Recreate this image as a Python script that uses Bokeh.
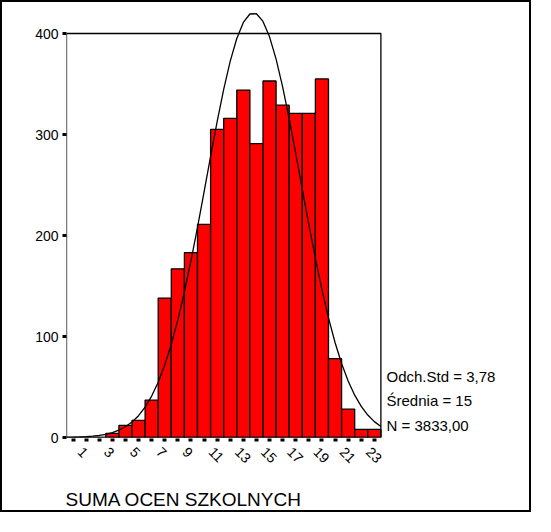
import math
from bokeh.plotting import figure
from bokeh.models import FixedTicker, Label, Range1d, Title
from bokeh.embed import file_html
from bokeh.resources import INLINE

# ---- data ----
bins = list(range(24))
counts = [0, 0, 0, 4, 12, 17, 37, 138, 167, 183, 211, 305,
          316, 344, 291, 353, 329, 321, 321, 355, 78, 28, 8, 8]
x_labelled = [1, 3, 5, 7, 9, 11, 13, 15, 17, 19, 21, 23]
y_ticks = [0, 100, 200, 300, 400]

curve_x = [-0.5, 0, 0.5, 1, 1.5, 2, 2.5, 3, 3.5, 4, 4.5, 5, 5.5, 6, 6.5, 7, 7.5, 8,
           8.5, 9, 9.5, 10, 10.5, 11, 11.5, 12, 12.5, 13, 13.5, 14, 14.5, 15, 15.5,
           16, 16.5, 17, 17.5, 18, 18.5, 19, 19.5, 20, 20.5, 21, 21.5, 22, 22.5, 23, 23.5]
curve_y = [0.2, 0.3, 0.5, 0.8, 1.3, 2.0, 3.1, 4.8, 7.2, 10.6, 15.3, 21.6, 30.0, 41.0,
           54.7, 71.8, 92.3, 116.4, 144.1, 174.8, 208.1, 243.0, 278.4, 312.8, 344.7,
           372.6, 395.1, 411.0, 419.3, 419.6, 412.0, 396.7, 374.6, 347.1, 315.4, 281.2,
           245.8, 210.8, 177.4, 146.4, 118.5, 94.1, 73.3, 56.0, 41.9, 30.8, 22.2, 15.7, 10.9]

stats_lines = ["Odch.Std = 3,78", "Średnia = 15", "N = 3833,00"]
x_title = "SUMA OCEN SZKOLNYCH"

FONT = "Liberation Sans"
X0, X1 = -0.5, 35.15
LABEL_SHIFT = 0.45  # rotated tick labels sit slightly left of their tick marks

p = figure(width=531, height=512, output_backend="svg", toolbar_location=None, title=None,
           x_range=Range1d(X0, X1), y_range=Range1d(0, 430.7),
           min_border_left=64, min_border_right=0, min_border_top=0, min_border_bottom=77)
p.extra_x_ranges = {"lab": Range1d(X0 + LABEL_SHIFT, X1 + LABEL_SHIFT)}
p.styles = {"border": "2px solid black"}
p.outline_line_color = None
p.grid.visible = False
p.background_fill_color = "white"
p.border_fill_color = "white"

p.vbar(x=bins, top=counts, width=1, bottom=0,
       fill_color="#FF0000", line_color="black", line_width=1.3)
p.line(curve_x, curve_y, line_color="black", line_width=1.3)
p.quad(left=[bins[0] - 0.5], right=[bins[-1] + 0.5], bottom=[y_ticks[0]], top=[y_ticks[-1]],
       fill_color=None, line_color="black", line_width=1.3)

xa = p.xaxis[0]
xa.x_range_name = "lab"
xa.ticker = FixedTicker(ticks=x_labelled, minor_ticks=[b + LABEL_SHIFT for b in bins])
xa.axis_line_color = None
xa.major_tick_line_color = None
xa.major_tick_out = 4
xa.major_tick_in = -1
xa.minor_tick_out = 4
xa.minor_tick_in = -1
xa.minor_tick_line_width = 4
xa.minor_tick_line_color = "black"
xa.major_label_orientation = -math.pi / 4
xa.major_label_text_font = FONT
xa.major_label_text_font_size = "14px"
xa.major_label_text_color = "black"
xa.major_label_standoff = 8

ya = p.yaxis[0]
ya.ticker = FixedTicker(ticks=y_ticks, minor_ticks=[])
ya.axis_line_color = None
ya.major_tick_out = 4
ya.major_tick_in = 0
ya.major_tick_line_width = 3
ya.major_tick_line_color = "black"
ya.minor_tick_out = 0
ya.major_label_text_font = FONT
ya.major_label_text_font_size = "14px"
ya.major_label_text_color = "black"
ya.major_label_standoff = 4

for text, yv in zip(stats_lines, [60.7, 36.6, 11.9]):
    p.add_layout(Label(x=23.93, y=yv, text=text, text_font=FONT, text_font_size="15px",
                       text_baseline="middle", text_color="black"))

title_kw = dict(text=x_title, align="left", offset=-1,
                text_font=FONT, text_font_size="19px", text_font_style="normal",
                text_color="black")
try:
    x_title_obj = Title(standoff=8, padding=dict(left=0, right=0, top=12, bottom=0), **title_kw)
except Exception:
    x_title_obj = Title(standoff=22, **title_kw)
p.add_layout(x_title_obj, "below")

open("out.html", "w").write(file_html(p, INLINE))
